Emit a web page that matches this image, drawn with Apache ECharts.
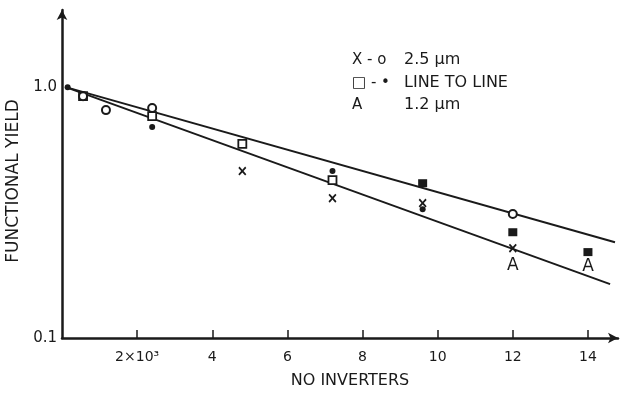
<!DOCTYPE html>
<html><head><meta charset="utf-8">
<script src="https://cdn.jsdelivr.net/npm/echarts@6/dist/echarts.min.js"></script>
<style>html,body{margin:0;padding:0;background:#fff}#c{width:621px;height:393px}</style>
</head><body><div id="c"></div>
<script>
// ---- data ----
const xTickValues = [2, 4, 6, 8, 10, 12, 14];
const xTickLabels = ['2×10³', '4', '6', '8', '10', '12', '14'];
const yTickValues = [0.1, 1];
const yTickLabels = ['0.1', '1.0'];

const circleX = [0.56, 1.17, 2.4, 12];
const circleY = [0.92, 0.81, 0.825, 0.312];
const dotX = [0.15, 2.4, 7.2, 9.6];
const dotY = [1.0, 0.693, 0.463, 0.326];
const squareX = [0.56, 2.4, 4.8, 7.2];
const squareY = [0.92, 0.767, 0.594, 0.426];
const filledSquareX = [9.6, 12, 14];
const filledSquareY = [0.414, 0.264, 0.22];
const crossX = [4.8, 7.2, 9.6, 12];
const crossY = [0.463, 0.361, 0.345, 0.228];
const aX = [12, 14];
const aY = [0.194, 0.193];
const fitUpperX = [0.1, 14.72];
const fitUpperY = [1.0, 0.241];
const fitLowerX = [0.1, 14.59];
const fitLowerY = [1.0, 0.164];

const legendSymbols = ['X - o', '□ - •', 'A'];
const legendTexts = ['2.5 µm', 'LINE TO LINE', '1.2 µm'];

const pair = (xs, ys) => xs.map((x, i) => [x, ys[i]]);
const ink = '#1a1a1a';
const font = 'DejaVu Sans';
const crossPath = 'path://M0,1.5 L1.5,0 L5,3.5 L8.5,0 L10,1.5 L6.5,5 L10,8.5 L8.5,10 L5,6.5 L1.5,10 L0,8.5 L3.5,5 Z';

const chart = echarts.init(document.getElementById('c'));
const legendGraphics = [];
legendSymbols.forEach((s, i) => {
  const cy = [60, 83, 105][i];
  legendGraphics.push({type: 'text', x: 352, y: cy,
    style: {text: s, font: '15px "' + font + '"', fill: ink, verticalAlign: 'middle'}});
  legendGraphics.push({type: 'text', x: 404, y: cy,
    style: {text: legendTexts[i], font: '16px "' + font + '"', fill: ink, verticalAlign: 'middle'}});
});

chart.setOption({
  animation: false,
  backgroundColor: '#fff',
  grid: {left: 62, right: 3, top: 10, bottom: 55, containLabel: false, outerBoundsMode: 'none'},
  xAxis: {
    type: 'value', min: 0, max: 14.8, interval: 2,
    name: 'NO INVERTERS', nameLocation: 'middle', nameGap: 35,
    nameTextStyle: {fontFamily: font, fontSize: 16, color: ink, padding: [0, 0, 0, 20]},
    splitLine: {show: false},
    axisLine: {lineStyle: {color: ink, width: 2.5}, symbol: ['none', 'arrow'], symbolSize: [8, 10]},
    axisTick: {inside: true, length: 8, lineStyle: {color: ink, width: 1.5}, customValues: xTickValues},
    axisLabel: {fontFamily: font, fontSize: 14, color: ink, margin: 12,
      customValues: xTickValues,
      formatter: v => xTickLabels[xTickValues.indexOf(v)] ?? ''}
  },
  yAxis: {
    type: 'log', logBase: 10, min: 0.1, max: 2.03,
    name: 'FUNCTIONAL YIELD', nameLocation: 'middle', nameGap: 34, nameRotate: 90,
    nameTextStyle: {fontFamily: font, fontSize: 17, color: ink, padding: [0, 14, 0, 0]},
    splitLine: {show: false},
    axisLine: {lineStyle: {color: ink, width: 2.5}, symbol: ['none', 'arrow'], symbolSize: [8, 10]},
    axisTick: {show: false},
    axisLabel: {fontFamily: font, fontSize: 15, color: ink, margin: 5,
      customValues: yTickValues,
      formatter: v => {
        let best = 0;
        yTickValues.forEach((t, i) => { if (Math.abs(Math.log10(t) - Math.log10(v)) < 0.01) best = i; });
        return yTickLabels[best];
      }}
  },
  graphic: legendGraphics,
  series: [
    {type: 'line', data: pair(fitUpperX, fitUpperY), symbol: 'none', lineStyle: {color: ink, width: 2}, z: 1},
    {type: 'line', data: pair(fitLowerX, fitLowerY), symbol: 'none', lineStyle: {color: ink, width: 2}, z: 1},
    {type: 'scatter', data: pair(squareX, squareY), symbol: 'rect', symbolSize: [8, 8],
      itemStyle: {color: '#fff', borderColor: ink, borderWidth: 1.8, opacity: 1}, z: 3},
    {type: 'scatter', data: pair(filledSquareX, filledSquareY), symbol: 'rect', symbolSize: [9, 8],
      itemStyle: {color: ink, opacity: 1}, z: 3},
    {type: 'scatter', data: pair(circleX, circleY), symbol: 'emptyCircle', symbolSize: 8,
      itemStyle: {color: ink, borderColor: ink, borderWidth: 2, opacity: 1}, z: 4},
    {type: 'scatter', data: pair(dotX, dotY), symbol: 'circle', symbolSize: 6,
      itemStyle: {color: ink, opacity: 1}, z: 4},
    {type: 'scatter', data: pair(crossX, crossY), symbol: crossPath, symbolSize: [8, 9],
      itemStyle: {color: ink, opacity: 1}, z: 4},
    {type: 'scatter', data: pair(aX, aY), symbol: 'circle', symbolSize: 0,
      itemStyle: {opacity: 1},
      label: {show: true, position: 'inside', formatter: 'A', fontFamily: font, fontSize: 17, color: ink, opacity: 1}, z: 4}
  ]
});
</script></body></html>
